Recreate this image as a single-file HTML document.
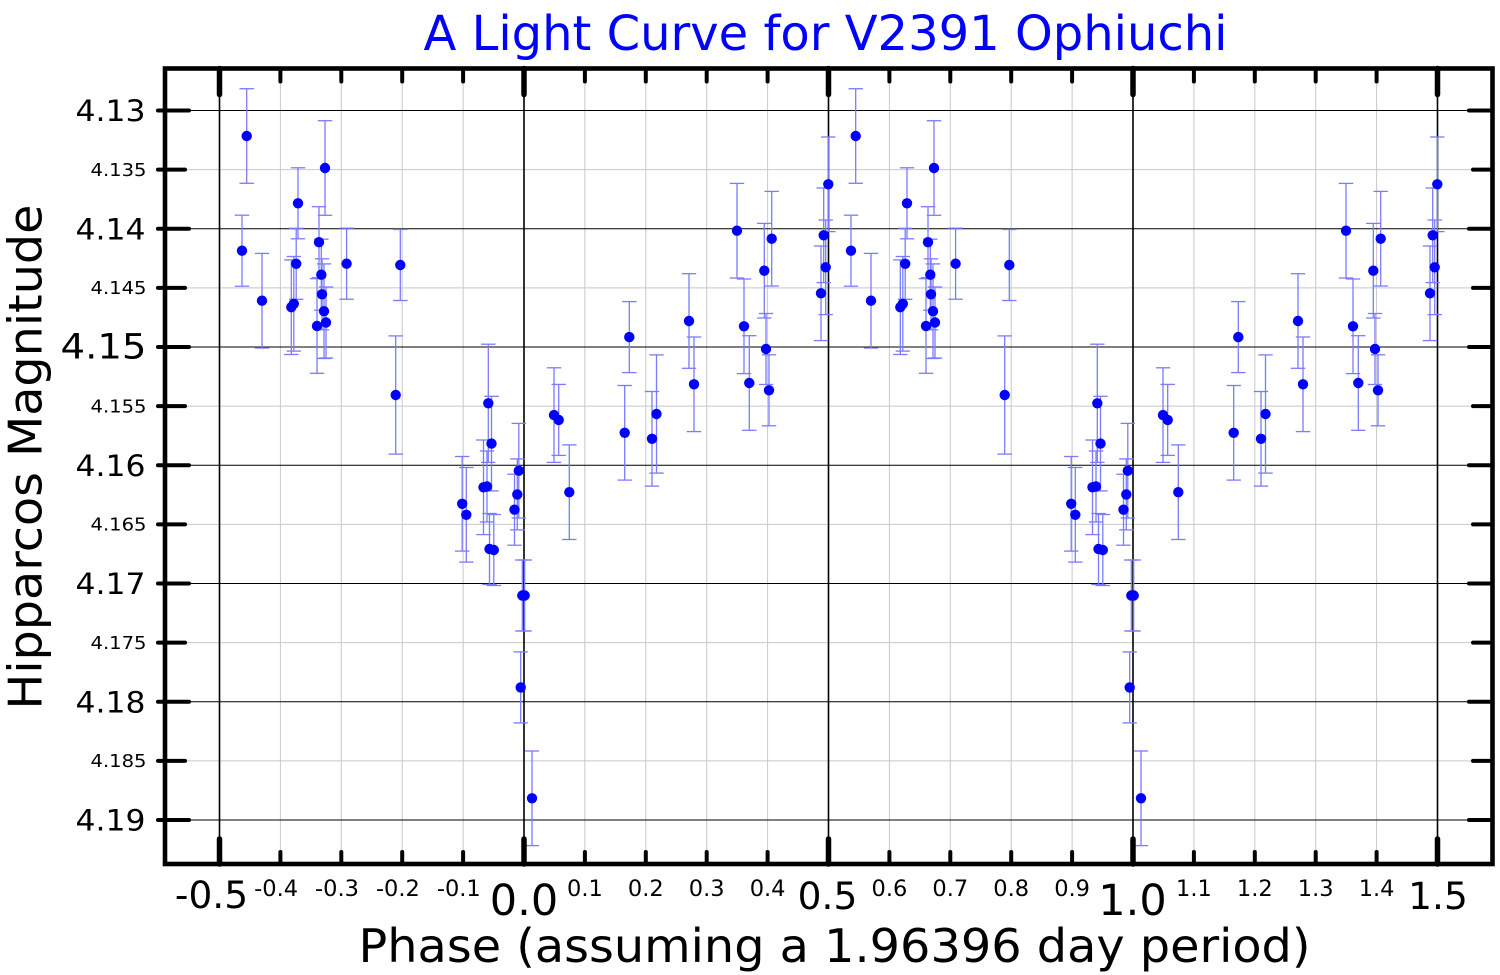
<!DOCTYPE html>
<html>
<head>
<meta charset="utf-8">
<style>
  html, body { margin: 0; padding: 0; background: #ffffff; }
  svg { display: block; }
  text { font-family: "DejaVu Sans", "Liberation Sans", sans-serif; }
</style>
</head>
<body>
<svg id="chart" width="1500" height="975" viewBox="0 0 1500 975" xmlns="http://www.w3.org/2000/svg">
  <rect x="0" y="0" width="1500" height="975" fill="#ffffff"/>
  <g id="grid"></g>
  <g id="bars"></g>
  <g id="pts"></g>
  <g id="frame"></g>

  <!-- Title -->
  <text x="423.5" y="50" font-size="48" fill="#0000ff" textLength="804" lengthAdjust="spacingAndGlyphs">A Light Curve for V2391 Ophiuchi</text>

  <!-- Axis titles -->
  <text x="358.5" y="962" font-size="46" fill="#000" textLength="952" lengthAdjust="spacingAndGlyphs">Phase (assuming a 1.96396 day period)</text>
  <text transform="translate(41.7,709.5) rotate(-90)" font-size="46" fill="#000" textLength="505" lengthAdjust="spacingAndGlyphs">Hipparcos Magnitude</text>

  <!-- Y tick labels -->
  <g fill="#000" text-anchor="end">
    <text x="145.5" y="121.1" font-size="29.5" textLength="70" lengthAdjust="spacingAndGlyphs">4.13</text>
    <text x="146.5" y="175.9" font-size="17.5" textLength="56" lengthAdjust="spacingAndGlyphs">4.135</text>
    <text x="145.5" y="239.4" font-size="29.5" textLength="70" lengthAdjust="spacingAndGlyphs">4.14</text>
    <text x="146.5" y="294.2" font-size="17.5" textLength="56" lengthAdjust="spacingAndGlyphs">4.145</text>
    <text x="146.5" y="358.5" font-size="35" textLength="86" lengthAdjust="spacingAndGlyphs">4.15</text>
    <text x="146.5" y="412.4" font-size="17.5" textLength="56" lengthAdjust="spacingAndGlyphs">4.155</text>
    <text x="145.5" y="475.9" font-size="29.5" textLength="70" lengthAdjust="spacingAndGlyphs">4.16</text>
    <text x="146.5" y="530.7" font-size="17.5" textLength="56" lengthAdjust="spacingAndGlyphs">4.165</text>
    <text x="145.5" y="594.1" font-size="29.5" textLength="70" lengthAdjust="spacingAndGlyphs">4.17</text>
    <text x="146.5" y="648.9" font-size="17.5" textLength="56" lengthAdjust="spacingAndGlyphs">4.175</text>
    <text x="145.5" y="712.4" font-size="29.5" textLength="70" lengthAdjust="spacingAndGlyphs">4.18</text>
    <text x="146.5" y="767.2" font-size="17.5" textLength="56" lengthAdjust="spacingAndGlyphs">4.185</text>
    <text x="145.5" y="830.6" font-size="29.5" textLength="70" lengthAdjust="spacingAndGlyphs">4.19</text>
  </g>

  <!-- X tick labels -->
  <g fill="#000" text-anchor="middle">
    <text x="211.5" y="908" font-size="37.5">-0.5</text>
    <text x="276.1" y="896" font-size="22.5">-0.4</text>
    <text x="337.0" y="896" font-size="22.5">-0.3</text>
    <text x="397.9" y="896" font-size="22.5">-0.2</text>
    <text x="458.8" y="896" font-size="22.5">-0.1</text>
    <text x="524" y="915" font-size="43">0.0</text>
    <text x="584.9" y="896" font-size="22.5">0.1</text>
    <text x="645.8" y="896" font-size="22.5">0.2</text>
    <text x="706.7" y="896" font-size="22.5">0.3</text>
    <text x="767.6" y="896" font-size="22.5">0.4</text>
    <text x="827.5" y="909" font-size="37.5">0.5</text>
    <text x="889.4" y="896" font-size="22.5">0.6</text>
    <text x="950.3" y="896" font-size="22.5">0.7</text>
    <text x="1011.2" y="896" font-size="22.5">0.8</text>
    <text x="1072.1" y="896" font-size="22.5">0.9</text>
    <text x="1132.5" y="915" font-size="43">1.0</text>
    <text x="1193.9" y="896" font-size="22.5">1.1</text>
    <text x="1254.8" y="896" font-size="22.5">1.2</text>
    <text x="1315.7" y="896" font-size="22.5">1.3</text>
    <text x="1376.6" y="896" font-size="22.5">1.4</text>
    <text x="1438" y="909" font-size="37.5">1.5</text>
  </g>
</svg>

<script>
(function(){
  var NS = "http://www.w3.org/2000/svg";
  function el(parent, name, attrs){
    var e = document.createElementNS(NS, name);
    for (var k in attrs) e.setAttribute(k, attrs[k]);
    parent.appendChild(e);
    return e;
  }
  var L = 165, R = 1492.5, T = 68.5, B = 864;
  function X(p){ return 524 + p*609; }
  function Y(m){ return 110.5 + (m-4.13)*11825; }

  var grid = document.getElementById("grid");
  for (var j = 0; j <= 12; j++){
    var y = Y(4.13 + 0.005*j);
    if (j % 2 === 1) el(grid, "line", {x1:L, x2:R, y1:y, y2:y, stroke:"#c8c8c8", "stroke-width":1});
  }
  for (var k = 0; k <= 20; k++){
    var x = X(-0.5 + 0.1*k);
    if (k % 5 !== 0) el(grid, "line", {x1:x, x2:x, y1:T, y2:B, stroke:"#c8c8c8", "stroke-width":1});
  }
  for (var j = 0; j <= 12; j += 2){
    var y = Y(4.13 + 0.005*j);
    el(grid, "line", {x1:L, x2:R, y1:y, y2:y, stroke:"#000", "stroke-width":1});
  }
  for (var k = 0; k <= 20; k += 5){
    var x = X(-0.5 + 0.1*k);
    el(grid, "line", {x1:x, x2:x, y1:T, y2:B, stroke:"#000", "stroke-width":1.6});
  }

  var base = [
    [524.7,595.5,35.5],[532,798.3,47.3],[554,415.1,47.3],[558.7,419.9,35.5],
    [569.3,492.2,47.3],[624.7,432.8,47.3],[629.3,337.1,35.5],[652,438.8,47.3],
    [656.5,414,59.1],[689,321,47.3],[694,384.3,47.3],[737,230.7,47.3],
    [744,326.3,47.3],[749.3,383,47.3],[764.3,270.7,47.3],[766,349,35.5],
    [769,390.3,35.5],[771.7,238.7,47.3],[821,293.3,47.3],[823.7,235.3,47.3],
    [825.7,267.3,47.3],[828.3,184.3,47.3],[851,250.7,35.5],[855.7,136,47.3],
    [871,300.7,47.3],[900.3,307.2,47.3],[902.8,303.8,47.3],[905.2,263.8,35.5],
    [907,203.3,35.5],[926,326,47.3],[928,242.2,35.5],[930.3,274.7,35.5],
    [931,294.3,35.5],[933,311.2,47.3],[934,168,47.3],[935,322.5,35.5],
    [955.6,263.7,35.5],[1004.7,395,59.1],[1009.3,265,35.5],[1071.2,503.8,47.3],
    [1075.3,514.8,47.3],[1092.5,487.3,47.3],[1096,486.5,35.5],[1097.3,403.3,59.1],
    [1098.5,549,35.5],[1100.5,443.6,47.3],[1102.8,550,35.5],[1123.5,509.7,35.5],
    [1126.3,494.4,35.5],[1127.8,470.7,47.3],[1129.7,687.4,35.5],[1131.3,595.5,35.5]
  ];
  var all = [];
  base.forEach(function(d){
    all.push([d[0], d[1], d[2]]);
    if (d[0] - 609 >= 221) all.push([d[0]-609, d[1], d[2]]);
    if (d[0] + 609 <= 1440) all.push([d[0]+609, d[1], d[2]]);
  });

  var bars = document.getElementById("bars");
  var pts = document.getElementById("pts");
  var bc = "#7b7bff";
  all.forEach(function(d){
    var x = d[0], y = d[1], h = d[2];
    el(bars, "line", {x1:x, x2:x, y1:y-h, y2:y+h, stroke:bc, "stroke-width":1.3});
    el(bars, "line", {x1:x-7.2, x2:x+7.2, y1:y-h, y2:y-h, stroke:bc, "stroke-width":1.3});
    el(bars, "line", {x1:x-7.2, x2:x+7.2, y1:y+h, y2:y+h, stroke:bc, "stroke-width":1.3});
  });
  all.forEach(function(d){
    el(pts, "circle", {cx:d[0], cy:d[1], r:5.2, fill:"#0000ff"});
  });

  var fr = document.getElementById("frame");
  for (var k = 0; k <= 20; k++){
    var x = X(-0.5 + 0.1*k);
    var major = (k % 5 === 0);
    var len = major ? 25 : 12;
    var w = major ? 5.5 : 4;
    el(fr, "line", {x1:x, x2:x, y1:B, y2:B-len, stroke:"#000", "stroke-width":w, "stroke-linecap":"round"});
    el(fr, "line", {x1:x, x2:x, y1:T, y2:T+(major?26:13), stroke:"#000", "stroke-width":w, "stroke-linecap":"round"});
  }
  for (var j = 0; j <= 12; j++){
    var y = Y(4.13 + 0.005*j);
    var major = (j % 2 === 0);
    el(fr, "line", {x1:158, x2: major ? 189 : 185, y1:y, y2:y, stroke:"#000", "stroke-width":4, "stroke-linecap":"round"});
    el(fr, "line", {x1: major ? 1469 : 1473, x2:R, y1:y, y2:y, stroke:"#000", "stroke-width":4, "stroke-linecap":"round"});
  }
  el(fr, "rect", {x:L, y:T, width:R-L, height:B-T, fill:"none", stroke:"#000", "stroke-width":4.6});
})();
</script>
</body>
</html>
